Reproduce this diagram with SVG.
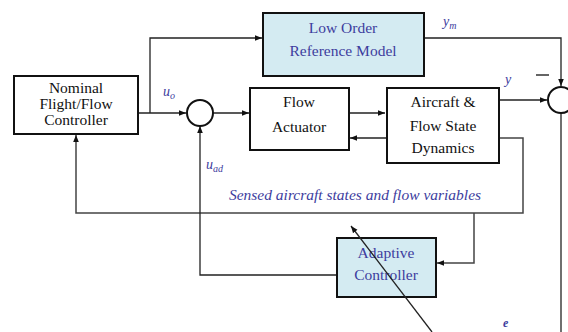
<svg xmlns="http://www.w3.org/2000/svg" width="568" height="332" viewBox="0 0 568 332">
<style>
.box{fill:#fff;stroke:#111;stroke-width:2}
.abox{fill:#d4ebf2;stroke:#111;stroke-width:2}
.t{font-family:'Liberation Serif','Times New Roman',serif;font-size:15.5px;fill:#111;text-anchor:middle}
.b{fill:#3d3d9e}
.lbl{font-family:'Liberation Serif','Times New Roman',serif;font-style:italic;fill:#3d3d9e}
.c{fill:none;stroke:#222;stroke-width:1.3}
.g{fill:none;stroke:#444;stroke-width:1.5}
.sum{fill:#fff;stroke:#111;stroke-width:2}
</style>
<defs>
<marker id="ah" viewBox="0 0 10 10" refX="10" refY="5" markerWidth="7" markerHeight="7" markerUnits="userSpaceOnUse" orient="auto">
<path d="M0,1 L10,5 L0,9 Z" fill="#111"/>
</marker>
</defs>
<g id="connectors">
<path class="c" d="M138,113 H186" marker-end="url(#ah)"/>
<path class="c" d="M150,113 V38 H262" marker-end="url(#ah)"/>
<path class="c" d="M213,113 H249" marker-end="url(#ah)"/>
<path class="c" d="M349,113 H385" marker-end="url(#ah)"/>
<path class="c" d="M387,138 H350" marker-end="url(#ah)"/>
<path class="c" d="M499,100 H547" marker-end="url(#ah)"/>
<path class="c" d="M424,38 H561 V86" marker-end="url(#ah)"/>
<path class="c" d="M561,113 V332"/>
<path class="g" d="M499,138 H523 V213 H76 V135" marker-end="url(#ah)"/>
<path class="g" d="M474,213 V263 H437" marker-end="url(#ah)"/>
<path class="c" d="M337,275 H200 V126" marker-end="url(#ah)"/>
</g>
<g id="nominal">
<rect class="box" x="14" y="76" width="124" height="58"/>
<text class="t" x="76" y="93">Nominal</text>
<text class="t" x="76" y="109">Flight/Flow</text>
<text class="t" x="76" y="125">Controller</text>
</g>
<g id="reference">
<rect class="abox" x="263" y="13" width="161" height="63"/>
<text class="t b" x="343" y="33">Low Order</text>
<text class="t b" x="343" y="56">Reference Model</text>
</g>
<g id="sum1">
<circle class="sum" cx="200" cy="113" r="13"/>
</g>
<g id="actuator">
<rect class="box" x="250" y="88" width="99" height="62"/>
<text class="t" x="299" y="107">Flow</text>
<text class="t" x="299" y="132">Actuator</text>
</g>
<g id="aircraft">
<rect class="box" x="387" y="88" width="112" height="75"/>
<text class="t" x="443" y="107">Aircraft &amp;</text>
<text class="t" x="443" y="131">Flow State</text>
<text class="t" x="443" y="153">Dynamics</text>
</g>
<g id="sum2">
<circle class="sum" cx="561" cy="100" r="13"/>
</g>
<g id="adaptive">
<rect class="abox" x="337" y="238" width="99" height="59"/>
<text class="t b" x="386" y="258">Adaptive</text>
<text class="t b" x="386" y="280">Controller</text>
</g>
<g id="pointer">
<path class="c" d="M432,332 L351,226" marker-end="url(#ah)"/>
</g>
<g id="labels">
<text class="lbl" x="163" y="96" font-size="14">u<tspan font-size="10" dy="3">o</tspan></text>
<text class="lbl" x="206" y="169" font-size="14">u<tspan font-size="10" dy="3">ad</tspan></text>
<text class="lbl" x="443" y="26" font-size="14">y<tspan font-size="10" dy="3">m</tspan></text>
<text class="lbl" x="505" y="84" font-size="14">y</text>
<text class="lbl" x="503" y="327" font-size="12" font-weight="bold">e</text>
<text class="lbl" x="355" y="200" font-size="15.5" text-anchor="middle">Sensed aircraft states and flow variables</text>
<path d="M536,75 H549" stroke="#111" stroke-width="1.3"/>
</g>
</svg>
